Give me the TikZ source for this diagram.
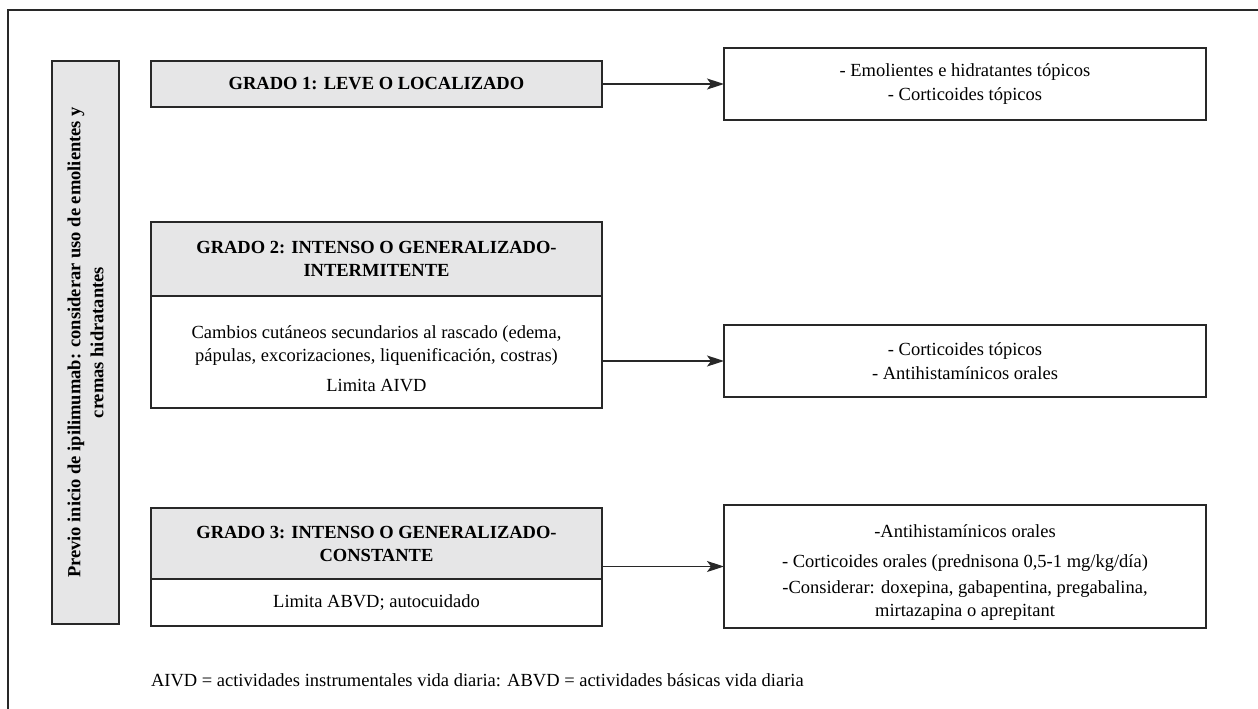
\documentclass[tikz,border=0pt]{standalone}
\usepackage{fontspec}
\setmainfont{Liberation Serif}
\usetikzlibrary{arrows.meta}
\definecolor{boxgray}{RGB}{230,230,231}
\definecolor{linegray}{RGB}{40,40,40}
\begin{document}
\begin{tikzpicture}[x=1pt,y=-1pt,
  every node/.style={inner sep=0pt, outer sep=0pt},
  txt/.style={font=\fontsize{18.5}{23}\selectfont},
  boxbase/.style={draw=linegray, line width=1.5pt, align=center, txt},
  gradebox/.style={boxbase, fill=boxgray, minimum width=451pt, font=\fontsize{18.5}{23}\selectfont\bfseries},
  bodybox/.style={boxbase, fill=white, minimum width=451pt},
  treatbox/.style={boxbase, fill=white, minimum width=482pt},
  sidebox/.style={boxbase, fill=boxgray, font=\fontsize{18.5}{23}\selectfont\bfseries},
  arr/.style={draw=linegray, line width=1.4pt, -{Stealth[length=17pt,width=11pt,inset=4pt]}}
]
\useasboundingbox (0,0) rectangle (1258,709);
\draw[linegray, line width=1.5pt] (8,709) -- (8,10) -- (1258,10);

\node[sidebox, rotate=90, minimum width=563pt, minimum height=67pt] (side) at (85.5,342.5)
  {Previo inicio de ipilimumab: considerar uso de emolientes y\\cremas hidratantes};

\node[gradebox, minimum height=46pt] (g1) at (376.5,84) {GRADO 1: LEVE O LOCALIZADO};
\node[treatbox, minimum height=72pt] (r1) at (965,84)
  {- Emolientes e hidratantes tópicos\\[1pt]- Corticoides tópicos};

\node[gradebox, minimum height=74pt] (g2h) at (376.5,259)
  {GRADO 2: INTENSO O GENERALIZADO-\\INTERMITENTE};
\node[bodybox, minimum height=112pt] (g2b) at (376.5,352)
  {\rule{0pt}{26pt}Cambios cutáneos secundarios al rascado (edema,\\pápulas, excorizaciones, liquenificación, costras)\\[7pt]Limita AIVD};
\node[treatbox, minimum height=72pt] (r2) at (965,361)
  {- Corticoides tópicos\\[1pt]- Antihistamínicos orales};

\node[gradebox, minimum height=71pt] (g3h) at (376.5,543.5)
  {GRADO 3: INTENSO O GENERALIZADO-\\CONSTANTE};
\node[bodybox, minimum height=47pt] (g3b) at (376.5,602.5) {Limita ABVD; autocuidado};
\node[treatbox, minimum height=123pt] (r3) at (965,566.5)
  {\rule{0pt}{24pt}-Antihistamínicos orales\\[7pt]- Corticoides orales (prednisona 0,5-1 mg/kg/día)\\[3pt]-Considerar: doxepina, gabapentina, pregabalina,\\mirtazapina o aprepitant};

\draw[arr] (g1.east) -- (r1.west);
\draw[arr] (g2b.east |- r2.west) -- (r2.west);
\draw[arr] (g3h.east |- r3.west) -- (r3.west);

\node[txt, anchor=base west] (foot) at (151,686)
  {AIVD = actividades instrumentales vida diaria: ABVD = actividades básicas vida diaria};
\end{tikzpicture}
\end{document}
